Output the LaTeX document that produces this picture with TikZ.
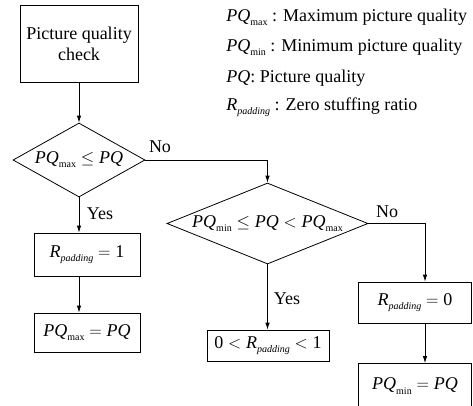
\documentclass[tikz,border=0pt]{standalone}
\usepackage{fontspec}
\setmainfont{Liberation Serif}
\usetikzlibrary{shapes.geometric,arrows.meta}
\newcommand{\PQ}{\textit{PQ}}
\newcommand{\sbx}[1]{\raisebox{-0.5ex}{\fontsize{10}{10}\selectfont #1}}
\newcommand{\Rp}{\textit{R}\sbx{\textit{padding}}}
\begin{document}
\begin{tikzpicture}[x=1pt,y=-1pt,
  font=\fontsize{18}{21}\selectfont,
  line width=0.8pt,
  stepbox/.style={draw,rectangle,inner sep=0pt,align=center},
  decision/.style={draw,diamond,inner sep=0pt},
  arr/.style={-{Latex[length=7pt,width=4.5pt]}},
  lbl/.style={inner sep=0pt},
  legend/.style={anchor=west,inner sep=0pt}]
\useasboundingbox (0,0) rectangle (473,405);
% nodes
\node[stepbox,minimum width=118pt,minimum height=77pt] (box1) at (79,44) {Picture quality\\check};
\node[decision,shape aspect=1.78,minimum width=132pt,minimum height=74pt] (d1) at (79,160) {\PQ\sbx{max}${}\leq{}$\PQ};
\node[stepbox,minimum width=106pt,minimum height=43pt] (box2) at (87,254.5) {\Rp${}={}$1};
\node[stepbox,minimum width=106pt,minimum height=39pt] (box3) at (87,332.5) {\PQ\sbx{max}${}={}$\PQ};
\node[decision,shape aspect=2.48,minimum width=201pt,minimum height=81pt] (d2) at (267.5,223.5) {\PQ\sbx{min}${}\leq{}$\PQ${}<{}$\PQ\sbx{max}};
\node[stepbox,minimum width=122pt,minimum height=31pt] (box4) at (268,345.5) {0${}<{}$\Rp${}<{}$1};
\node[stepbox,minimum width=113pt,minimum height=41pt] (box5) at (415,302.5) {\Rp${}={}$0};
\node[stepbox,minimum width=113pt,minimum height=45pt] (box6) at (415,386) {\PQ\sbx{min}${}={}$\PQ};
\coordinate (c5) at (425,0);
% connectors
\draw[arr] (box1.south) -- (d1.north);
\draw[arr] (d1.south) -- (d1.south |- box2.north);
\draw[arr] (d1.south |- box2.south) -- (d1.south |- box3.north);
\draw[arr] (d1.east) -| (d2.north);
\draw[arr] (d2.south) -- (d2.south |- box4.north);
\draw[arr] (d2.east) -| (c5 |- box5.north);
\draw[arr] (c5 |- box5.south) -- (c5 |- box6.north);
% labels
\node[lbl] (no1) at (160,147) {No};
\node[lbl] (yes1) at (100,214) {Yes};
\node[lbl] (no2) at (387,212) {No};
\node[lbl] (yes2) at (287,299) {Yes};
% legend
\node[legend] (lg1) at (226,17) {\PQ\sbx{max} : Maximum picture quality};
\node[legend] (lg2) at (226,47) {\PQ\sbx{min} : Minimum picture quality};
\node[legend] (lg3) at (226,78) {\PQ: Picture quality};
\node[legend] (lg4) at (226,107) {\Rp\ : Zero stuffing ratio};
\end{tikzpicture}
\end{document}
